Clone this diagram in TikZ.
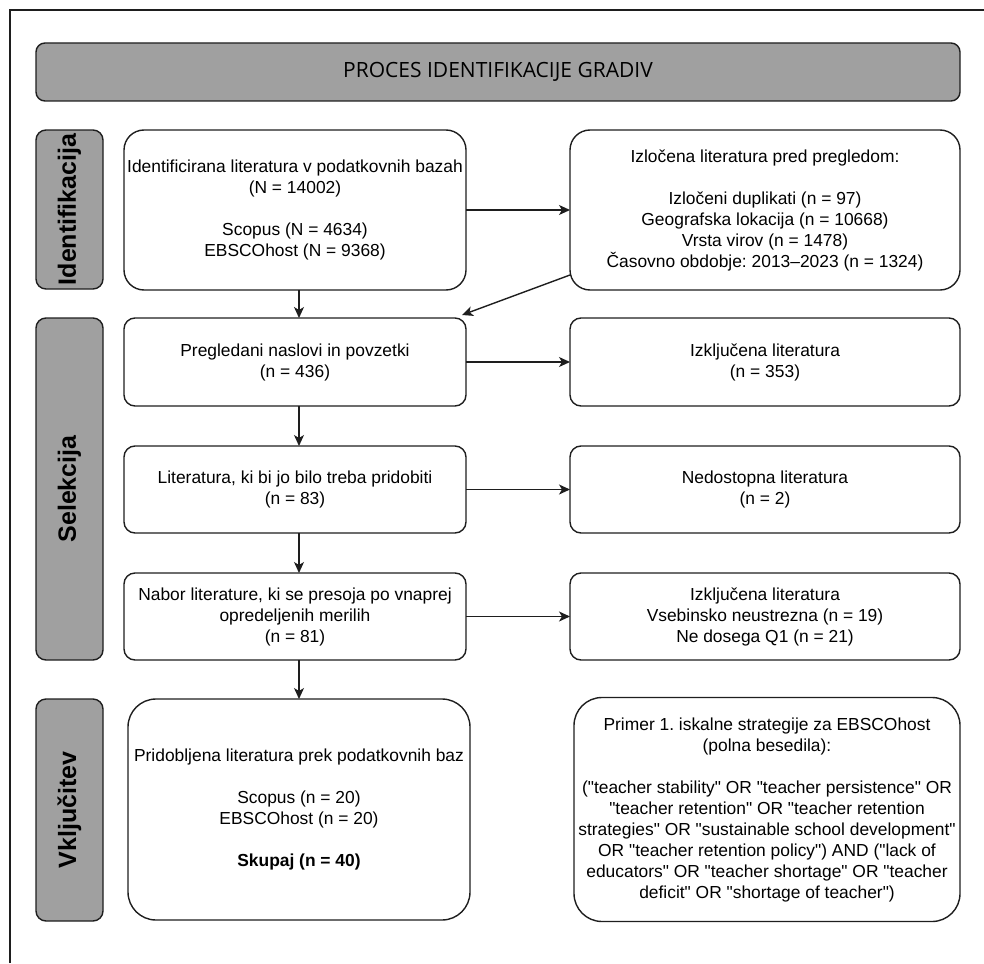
\documentclass[tikz,border=0pt]{standalone}
\usepackage{fontspec}
\setmainfont{Liberation Sans}
\newfontfamily\titlefont{Open Sans}
\newfontfamily\queryfont{Liberation Sans}[Ligatures=TeXOff]
\usetikzlibrary{positioning,arrows.meta}
\definecolor{bargray}{RGB}{160,160,160}
\definecolor{framegray}{RGB}{30,30,30}
\frenchspacing

\begin{document}
\begin{tikzpicture}[x=1pt, y=-1pt,
  every node/.style={font={\fontsize{17.4}{21}\selectfont}, align=center, inner sep=0pt, outer sep=0pt},
  flowbox/.style={draw=framegray, fill=white, line width=1.4pt, rectangle, rounded corners=11pt, minimum width=342pt, minimum height=88pt},
  sidebox/.style={flowbox, minimum width=390pt},
  sidelabel/.style={draw=framegray, fill=bargray, line width=1.4pt, rounded corners=10pt, rotate=90, minimum height=67pt, font={\fontsize{25}{29}\selectfont\bfseries}},
  titlebar/.style={draw=framegray, fill=bargray, line width=1.4pt, rounded corners=9pt, minimum width=924pt, minimum height=58pt, font={\titlefont\fontsize{21}{25}\selectfont}},
  flowarrow/.style={draw=framegray, line width=1.4pt, -{Stealth[length=11pt, width=10pt, inset=3pt]}}]
\useasboundingbox (0,0) rectangle (984,963);
\draw[framegray, line width=1.2pt] (10,963) -- (10,10) -- (984,10);

\node[titlebar] (title) at (498,72) {PROCES IDENTIFIKACIJE GRADIV};

% stages
\node[sidelabel, minimum width=159pt] (identlab) at (69.5,209.5) {Identifikacija};
\node[sidelabel, minimum width=342pt] (selectlab) at (69.5,489) {Selekcija};
\node[sidelabel, minimum width=222pt] (inclab) at (69.5,810) {Vključitev};

% left column
\node[flowbox, minimum height=160pt, rounded corners=20pt] (ident) at (295,210)
  {Identificirana literatura v podatkovnih bazah\\(N = 14002)\\[21pt]Scopus (N = 4634)\\EBSCOhost (N = 9368)};
\node[flowbox, below=28pt of ident] (screened) {Pregledani naslovi in povzetki\\(n = 436)};
\node[flowbox, below=40pt of screened, minimum height=87pt] (sought) {Literatura, ki bi jo bilo treba pridobiti\\(n = 83)};
\node[flowbox, below=40pt of sought, minimum height=87pt] (assessed) {Nabor literature, ki se presoja po vnaprej\\opredeljenih merilih\\(n = 81)};
\node[flowbox, below=39pt of assessed, xshift=4pt, minimum height=221pt, rounded corners=28pt] (included)
  {Pridobljena literatura prek podatkovnih baz\\[21pt]Scopus (n = 20)\\EBSCOhost (n = 20)\\[21pt]\textbf{Skupaj (n = 40)}};

% right column
\node[sidebox, right=104pt of ident, minimum height=160pt, rounded corners=20pt] (removed)
  {Izločena literatura pred pregledom:\\[21pt]Izločeni duplikati (n = 97)\\Geografska lokacija (n = 10668)\\Vrsta virov (n = 1478)\\Časovno obdobje: 2013–2023 (n = 1324)};
\node[sidebox, right=104pt of screened] (excluded) {Izključena literatura\\(n = 353)};
\node[sidebox, right=104pt of sought, minimum height=87pt] (notfound) {Nedostopna literatura\\(n = 2)};
\node[sidebox, right=104pt of assessed, minimum height=87pt] (rejected) {Izključena literatura\\Vsebinsko neustrezna (n = 19)\\Ne dosega Q1 (n = 21)};
\node[sidebox, right=104pt of included, minimum width=386pt, minimum height=224pt, rounded corners=28pt,
  font={\queryfont\fontsize{17.4}{21}\selectfont}] (query)
  {Primer 1. iskalne strategije za EBSCOhost\\(polna besedila):\\[21pt]("teacher stability" OR "teacher persistence" OR\\"teacher retention" OR "teacher retention\\strategies" OR "sustainable school development"\\OR "teacher retention policy") AND ("lack of\\educators" OR "teacher shortage" OR "teacher\\deficit" OR "shortage of teacher")};

% connectors
\draw[flowarrow] (ident) -- (removed);
\draw[flowarrow] (screened) -- (excluded);
\draw[flowarrow] (sought) -- (notfound);
\draw[flowarrow] (assessed) -- (rejected);
\draw[flowarrow] ([xshift=4pt]ident.south) -- ([xshift=4pt]screened.north);
\draw[flowarrow] ([xshift=4pt]screened.south) -- ([xshift=4pt]sought.north);
\draw[flowarrow] ([xshift=4pt]sought.south) -- ([xshift=4pt]assessed.north);
\draw[flowarrow] ([xshift=4pt]assessed.south) -- (included.north);
\draw[flowarrow] ([yshift=15pt]removed.south west) -- ([xshift=-4pt,yshift=3pt]screened.north east);
\end{tikzpicture}
\end{document}
